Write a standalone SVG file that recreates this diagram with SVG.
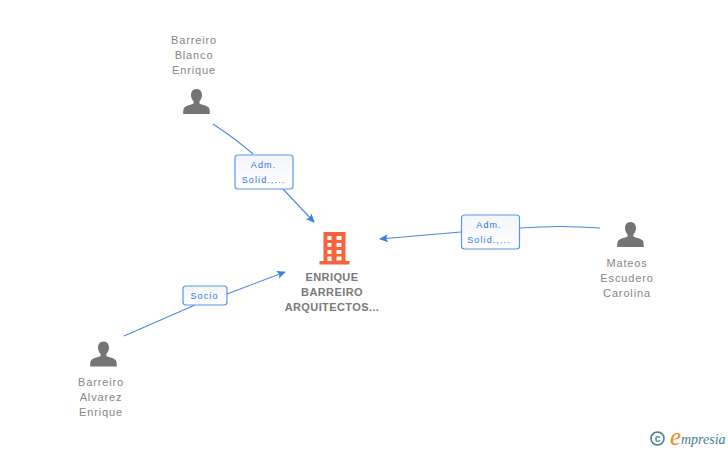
<svg xmlns="http://www.w3.org/2000/svg" width="728" height="450" viewBox="0 0 728 450">
<style>
.n{font:11px "Liberation Sans",Arial,sans-serif;fill:#868686;text-anchor:middle;letter-spacing:.85px}
.b{font:bold 11px "Liberation Sans",Arial,sans-serif;fill:#7a7a7a;text-anchor:middle;letter-spacing:.4px}
.l{font:9px "Liberation Sans",Arial,sans-serif;fill:#2f78e4;text-anchor:middle;letter-spacing:1.1px}
.c{fill:none;stroke:#4a88e4;stroke-width:1.1}
.box{fill:url(#g);stroke:#5b96e8;stroke-width:1.2}
.p{fill:#747474}
</style>
<defs>
<linearGradient id="g" x1="0" y1="0" x2="0" y2="1"><stop offset="0" stop-color="#f3f5f8"/><stop offset="1" stop-color="#fff"/></linearGradient>
<marker id="a" markerWidth="10" markerHeight="10" refX="8" refY="4" orient="auto" markerUnits="userSpaceOnUse"><path d="M0 0L9 4L0 8L2 4Z" fill="#3b7fe0"/></marker>
<symbol id="person" viewBox="0 0 28 28" overflow="visible"><path d="M14 1c3.600 0 5.500 2.800 5.500 6 0 2.600-1 4.800-2.500 6.200v2.300c1.500 1 7 2 9 3.800 1 1 1.300 3 1.300 6.700H.7c0-3.700.3-5.700 1.300-6.700 2-1.800 7.500-2.800 9-3.800v-2.300C9.500 11.800 8.500 9.600 8.500 7c0-3.200 1.900-6 5.500-6z"/></symbol>
</defs>
<g id="connectors">
<path class="c" d="M213 124Q236 139 253 154"/>
<path class="c" d="M283 189L314 222" marker-end="url(#a)"/>
<path class="c" d="M600 228Q560 225 520 228"/>
<path class="c" d="M461 232L380 239" marker-end="url(#a)"/>
<path class="c" d="M124 336L195 305"/>
<path class="c" d="M227 294L285 272" marker-end="url(#a)"/>
</g>
<g id="edge-label-1"><rect class="box" x="235" y="155" width="58" height="34" rx="3"/><text class="l" x="263.500" y="168">Adm.</text><text class="l" x="263.500" y="183">Solid.,...</text></g>
<g id="edge-label-2"><rect class="box" x="461.500" y="215" width="58" height="34" rx="3"/><text class="l" x="489" y="228">Adm.</text><text class="l" x="489" y="243">Solid.,...</text></g>
<g id="edge-label-3"><rect class="box" x="183" y="286" width="44" height="19" rx="3"/><text class="l" x="204.500" y="299">Socio</text></g>
<g id="node-company">
<path fill="#f9623a" fill-rule="evenodd" d="M324 232H346V261H350V264.500H320V261H324ZM328 236V240H332V236ZM337 236V240H342V236ZM328 243V247H332V243ZM337 243V247H342V243ZM328 250V254H332V250ZM337 250V254H342V250ZM328 256.500V261H332V256.500ZM337 256.500V260.500H342V256.500Z" transform="translate(-.5 0)"/>
<text class="b" x="332" y="280.500">ENRIQUE</text><text class="b" x="332" y="295.500">BARREIRO</text><text class="b" x="332" y="310.500">ARQUITECTOS...</text>
</g>
<g id="node-blanco">
<text class="n" x="194" y="43.500">Barreiro</text><text class="n" x="194" y="58.500">Blanco</text><text class="n" x="194" y="73.500">Enrique</text>
<use href="#person" class="p" x="182.500" y="88" width="28" height="28"/>
</g>
<g id="node-mateos">
<use href="#person" class="p" x="616.500" y="221" width="28" height="28"/>
<text class="n" x="627" y="266.500">Mateos</text><text class="n" x="627" y="281.500">Escudero</text><text class="n" x="627" y="296.500">Carolina</text>
</g>
<g id="node-alvarez">
<use href="#person" class="p" x="89.500" y="340.500" width="28" height="28"/>
<text class="n" x="101" y="385.500">Barreiro</text><text class="n" x="101" y="400.500">Alvarez</text><text class="n" x="101" y="415.500">Enrique</text>
</g>
<g id="logo">
<circle cx="657.500" cy="438.500" r="6.500" fill="none" stroke="#4a7f95" stroke-width="1.600"/>
<text x="657.500" y="442" font-family="Liberation Sans,sans-serif" font-size="10" font-weight="bold" fill="#4a7f95" text-anchor="middle">c</text>
<text x="670" y="445" font-family="Liberation Serif,serif" font-style="italic" font-size="25" fill="#f08a1c">e</text>
<text x="681" y="444" font-family="Liberation Serif,serif" font-style="italic" font-size="14" fill="#3f7f96">mpresia</text>
</g>
</svg>
